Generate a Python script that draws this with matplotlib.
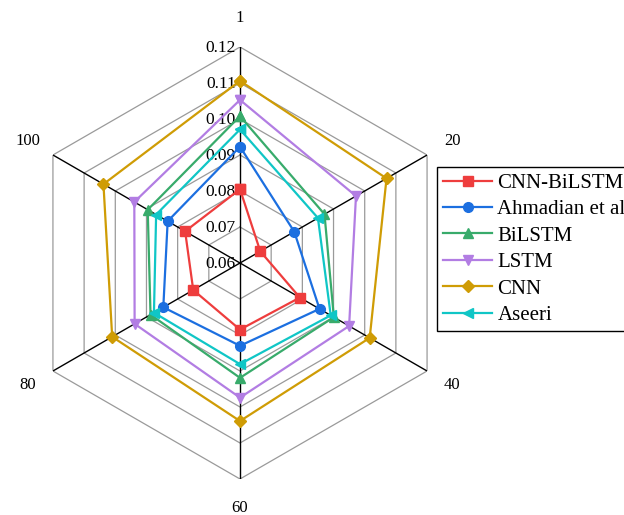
import numpy as np
import matplotlib
matplotlib.use('Agg')
import matplotlib.pyplot as plt
from matplotlib import transforms

plt.rcParams['font.family'] = ['Liberation Serif', 'DejaVu Serif']

# spokes (clockwise from the top) and radial rings
categories = ['1', '20', '40', '60', '80', '100']
ring_values = [0.06, 0.07, 0.08, 0.09, 0.10, 0.11, 0.12]
ring_labels = ['0.06', '0.07', '0.08', '0.09', '0.10', '0.11', '0.12']

# series values, one per spoke
cnn_bilstm = [0.0805, 0.0665, 0.0792, 0.0785, 0.0750, 0.0776]
ahmadian = [0.0923, 0.0774, 0.0855, 0.0830, 0.0846, 0.0832]
bilstm = [0.1008, 0.0871, 0.0901, 0.0919, 0.0887, 0.0896]
lstm = [0.1053, 0.0972, 0.0950, 0.0974, 0.0938, 0.0939]
cnn = [0.1106, 0.1070, 0.1016, 0.1039, 0.1010, 0.1038]
aseeri = [0.0971, 0.0850, 0.0891, 0.0881, 0.0876, 0.0869]

series = [
    ('CNN-BiLSTM', cnn_bilstm, '#ee3d3d', 's', 6.5),
    ('Ahmadian et al', ahmadian, '#1c6fe0', 'o', 7),
    ('BiLSTM', bilstm, '#38ab6b', '^', 7.5),
    ('LSTM', lstm, '#b27de3', 'v', 7.5),
    ('CNN', cnn, '#cf9c05', 'D', 6.5),
    ('Aseeri', aseeri, '#10c6c6', '<', 7.5),
]

n = len(categories)
angles = np.linspace(0, 2 * np.pi, n, endpoint=False)
closed = np.append(angles, angles[0])

fig = plt.figure(figsize=(6.24, 5.15), dpi=100)
ax = fig.add_axes([24 / 624, 36 / 515, 432 / 624, 432 / 515], projection='polar')
ax.set_theta_zero_location('N')
ax.set_theta_direction(-1)
ax.set_ylim(ring_values[0], ring_values[-1])
ax.grid(False)
ax.spines['polar'].set_visible(False)
ax.set_xticks([])
ax.set_yticks([])
ax.patch.set_alpha(0)

# hexagonal rings
for r in ring_values[1:]:
    ax.plot(closed, [r] * (n + 1), color='#9a9a9a', lw=0.9, zorder=1)

# spokes
for a in angles:
    ax.plot([a, a], [ring_values[0], ring_values[-1]], color='black', lw=1.0, zorder=2)

# ring labels just left of the top spoke
offset = transforms.offset_copy(ax.transData, fig=fig, x=-4, y=-1, units='dots')
for r, lab in zip(ring_values, ring_labels):
    ax.text(0, r, lab, transform=offset, ha='right', va='center', fontsize=12.5,
            zorder=2, clip_on=False)

# spoke labels
for a, lab in zip(angles, categories):
    ax.text(a, 0.128, lab, ha='center', va='center', fontsize=12, clip_on=False)

for name, vals, color, marker, ms in series:
    v = np.append(vals, vals[0])
    ax.plot(closed, v, color=color, lw=1.6, marker=marker, markersize=ms,
            label=name, zorder=3, clip_on=False)

leg = fig.legend(loc='upper left', bbox_to_anchor=(437 / 624, 1 - 167 / 515),
                 bbox_transform=fig.transFigure, borderaxespad=0, fontsize=15,
                 frameon=True, fancybox=False, edgecolor='black', framealpha=1,
                 handlelength=2.35, handletextpad=0.25, borderpad=0.3,
                 labelspacing=0.33)
leg.get_frame().set_linewidth(1.0)

fig.savefig('out.png', dpi=100)
